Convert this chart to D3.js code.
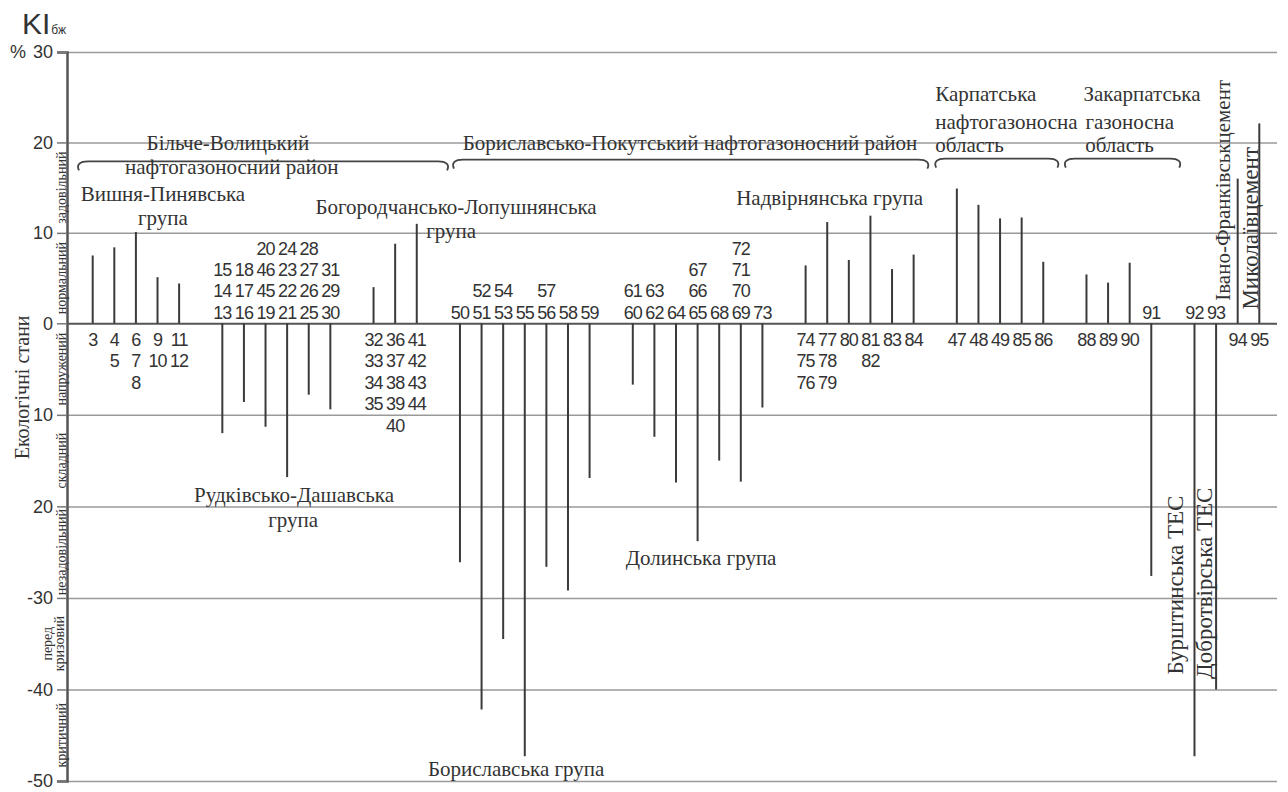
<!DOCTYPE html>
<html><head><meta charset="utf-8">
<script src="https://cdn.jsdelivr.net/npm/d3@7"></script>
<style>body{margin:0;background:#fff}</style>
</head><body><svg id="c" width="1288" height="792"></svg>
<script>
// ---- data ----
const categories = ["3","4","6","9","11","g1","13","16","19","21","25","30","g2","32","36","41","g3",
  "50","51","53","55","56","58","59","g4","60","62","64","65","68","69","73","g5",
  "74","77","80","81","83","84","g6","47","48","49","85","86","g7","88","89","90","91","g8","92","93","94","95"];
const values = [7.5,8.4,10.1,5.1,4.4,null,-12.0,-8.6,-11.3,-16.8,-7.8,-9.4,null,4.0,8.8,11.0,null,
  -26.1,-42.2,-34.5,-47.3,-26.6,-29.2,-16.9,null,-6.7,-12.4,-17.4,-23.8,-15.0,-17.3,-9.2,null,
  6.4,11.2,7.0,11.9,6.0,7.6,null,14.9,13.1,11.6,11.7,6.8,null,5.4,4.5,6.7,-27.6,null,-47.3,-40.0,16.0,22.1];
const labelStacks = [["3"],["4","5"],["6","7","8"],["9","10"],["11","12"],[],
  ["13","14","15"],["16","17","18"],["19","45","46","20"],["21","22","23","24"],["25","26","27","28"],["30","29","31"],[],
  ["32","33","34","35"],["36","37","38","39","40"],["41","42","43","44"],[],
  ["50"],["51","52"],["53","54"],["55"],["56","57"],["58"],["59"],[],
  ["60","61"],["62","63"],["64"],["65","66","67"],["68"],["69","70","71","72"],["73"],[],
  ["74","75","76"],["77","78","79"],["80"],["81","82"],["83"],["84"],[],
  ["47"],["48"],["49"],["85"],["86"],[],["88"],["89"],["90"],["91"],[],["92"],["93"],["94"],["95"]];
const yTicks = [30,20,10,0,-10,-20,-30,-40,-50];
const yTickLabels = ["30","20","10","0","10","20","-30","-40","-50"];
const stateNames = [["задовільний"],["нормальний"],["напружений"],["складний"],["незадовільний"],["перед","кризовий"],["критичний"]];
const stateTops = [20,10,0,-10,-20,-30,-40];
const stateBottoms = [10,0,-10,-20,-30,-40,-50];
// braces: from slot, to slot, level
const braceFrom = [-0.68,16.68,39.0,45.0];
const braceTo = [16.45,38.68,44.7,50.34];
const braceLevel = [17.9,18.1,18.2,18.2];
// annotations: text, slot, value, anchor, rotated, size
const annTexts = ["Більче-Волицький","нафтогазоносний район","Вишня-Пинявська","група","Богородчансько-Лопушнянська","група",
  "Бориславсько-Покутський нафтогазоносний район","Надвірнянська група","Карпатська","нафтогазоносна","область",
  "Закарпатська","газоносна","область","Рудківсько-Дашавська","група","Долинська група","Бориславська група",
  "Бурштинська ТЕС","Добротвірська ТЕС","Івано-Франківськцемент","Миколаївцемент"];
const annSlot = [6.26,6.44,3.25,3.25,16.82,16.59,27.65,34.11,39.0,39.0,39.0,45.86,45.95,45.94,9.32,9.28,28.16,19.6,50.1,51.45,52.33,53.58];
const annValue = [19.9,17.3,14.3,11.6,12.9,10.2,19.9,13.9,25.4,22.3,19.7,25.4,22.3,19.7,-18.8,-21.5,-25.6,-48.7,-28.6,-28.4,14.7,10.5];
const annAnchor = ["middle","middle","middle","middle","middle","middle","middle","middle","start","start","start",
  "start","start","start","middle","middle","middle","middle","middle","middle","middle","middle"];
const annRotated = [0,0,0,0,0,0,0,0,0,0,0,0,0,0,0,0,0,0,1,1,1,1];
const annSize = [21,21,21,21,21,21,21,21,21,21,21,21,21,21,21,21,21,21,23,23,21,23];

// ---- chart ----
const svg = d3.select("#c");
const serif = "'Liberation Serif','Times New Roman',serif";
const sans = "'Liberation Sans',Arial,sans-serif";
const ink = "#333";
const x = d3.scalePoint().domain(categories).range([92.7,1259.3]);
const xs = d3.scaleLinear().domain([0,categories.length-1]).range(x.range());
const y = d3.scaleLinear().domain([-50,0,30]).range([781,323.3,52]);
const axisX = 67, gridRight = 1277;

// gridlines
const grid = svg.append("g").attr("transform",`translate(${axisX},0)`)
  .call(d3.axisLeft(y).tickValues(yTicks).tickSize(-(gridRight-axisX)).tickFormat(""));
grid.select(".domain").remove();
grid.selectAll(".tick line").attr("stroke",d=>d===0?"#555":"#9a9a9a").attr("stroke-width",d=>d===0?2:1.5);

// left axis with labels
const ax = svg.append("g").attr("transform",`translate(${axisX},0)`)
  .call(d3.axisLeft(y).tickValues(yTicks).tickSize(10).tickPadding(4).tickFormat((d,i)=>yTickLabels[i]));
ax.select(".domain").attr("stroke","#555").attr("stroke-width",2.5);
ax.selectAll(".tick line").attr("stroke","#777").attr("stroke-width",1.5);
ax.selectAll(".tick text").attr("font-family",sans).attr("font-size",18).attr("fill",ink);

// bars
const bars = categories.map((c,i)=>({c,v:values[i],labels:labelStacks[i]})).filter(d=>d.v!==null);
svg.append("g").selectAll("line").data(bars).join("line")
  .attr("x1",d=>x(d.c)).attr("x2",d=>x(d.c))
  .attr("y1",y(0)).attr("y2",d=>y(d.v))
  .attr("stroke","#3a3a3a").attr("stroke-width",2);

// number labels
const lab = [];
bars.forEach(d=>d.labels.forEach((t,i)=>lab.push({t,c:d.c,i,pos:d.v>=0})));
svg.append("g").selectAll("text").data(lab).join("text")
  .attr("x",d=>x(d.c))
  .attr("y",d=>d.pos ? y(0)+16+d.i*21.5 : y(0)-11-d.i*21.3)
  .attr("dy","0.36em").attr("text-anchor","middle")
  .attr("font-family",sans).attr("font-size",18).attr("letter-spacing",-0.9).attr("fill",ink)
  .text(d=>d.t);

// braces
const br = braceFrom.map((f,i)=>({x1:xs(f),x2:xs(braceTo[i]),yy:y(braceLevel[i])}));
svg.append("g").selectAll("path").data(br).join("path")
  .attr("d",d=>`M${d.x1+1},${d.yy+9} C${d.x1-2},${d.yy+3} ${d.x1+2},${d.yy} ${d.x1+10},${d.yy} L${d.x2-10},${d.yy} C${d.x2-2},${d.yy} ${d.x2+2},${d.yy+3} ${d.x2-1},${d.yy+9}`)
  .attr("fill","none").attr("stroke","#444").attr("stroke-width",1.8);

// annotations
const ann = annTexts.map((t,i)=>({t,px:xs(annSlot[i]),py:y(annValue[i]),a:annAnchor[i],r:annRotated[i],s:annSize[i]}));
svg.append("g").selectAll("text").data(ann).join("text")
  .attr("transform",d=>d.r?`translate(${d.px},${d.py}) rotate(-90)`:`translate(${d.px},${d.py})`)
  .attr("dy","0.33em").attr("text-anchor",d=>d.a)
  .attr("font-family",serif).attr("font-size",d=>d.s).attr("fill",ink)
  .text(d=>d.t);

// state bands (rotated small labels)
const st = stateNames.map((n,i)=>({n,cy:(y(stateTops[i])+y(stateBottoms[i]))/2}));
const sg = svg.append("g").selectAll("text").data(st).join("text")
  .attr("transform",d=>`translate(${d.n.length>1?47:61},${d.cy}) rotate(-90)`)
  .attr("text-anchor","middle").attr("font-family",serif).attr("font-size",14).attr("fill",ink);
sg.selectAll("tspan").data(d=>d.n).join("tspan")
  .attr("x",0).attr("dy",(t,i)=>i===0?"0.33em":"0.85em").text(t=>t);

// axis title
svg.append("text").attr("transform",`translate(22,${y(-7)}) rotate(-90)`)
  .attr("dy","0.33em").attr("text-anchor","middle")
  .attr("font-family",serif).attr("font-size",20).attr("fill",ink).text("Екологічні стани");
svg.append("text").attr("x",10).attr("y",y(30)).attr("dy","0.36em")
  .attr("font-family",sans).attr("font-size",18).attr("fill",ink).text("%");
const ti = svg.append("text").attr("x",22).attr("y",34).attr("font-family",sans).attr("fill",ink);
ti.append("tspan").attr("font-size",30).text("KI");
ti.append("tspan").attr("font-size",12).attr("dx",1).text("бж");
</script></body></html>
